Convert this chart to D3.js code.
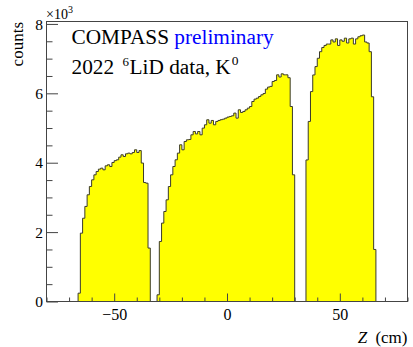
<!DOCTYPE html>
<html>
<head>
<meta charset="utf-8">
<script src="https://cdn.jsdelivr.net/npm/d3@7"></script>
<style>
  html, body { margin: 0; padding: 0; background: #ffffff; }
  svg { display: block; }
  text { font-family: "Liberation Serif", "Times New Roman", serif; fill: #000; }
</style>
</head>
<body>
<svg id="chart" width="413" height="347"></svg>
<script>
// Reconstructed vertex Z distribution, 1 cm bins, three target cells
const binWidth = 1;
const cellStarts = [-66, -31, 35];
const cell1Counts = [240, 1970, 2400, 2740, 3075, 3315, 3507, 3651, 3747, 3815, 3843, 3795,
  3910, 3940, 3890, 4007, 4060, 4084, 4160, 4228, 4180, 4256, 4276, 4256, 4295, 4372,
  4295, 4350, 3990, 3430, 3410, 1540];
const cell2Counts = [193, 1730, 2260, 2594, 2930, 3314, 3651, 3891, 4084, 4277, 4516, 4372,
  4611, 4660, 4670, 4804, 4900, 4830, 4900, 4804, 4997, 5093, 5237, 5140, 5218, 5093,
  5189, 5218, 5240, 5256, 5285, 5314, 5333, 5352, 5430, 5285, 5525, 5448, 5477, 5525,
  5573, 5620, 5764, 5833, 5862, 5908, 5957, 5995, 6121, 6180, 6200, 6340, 6370, 6533,
  6470, 6562, 6533, 6533, 6450, 5620, 3651];
const cell3Counts = [4080, 5190, 6050, 6530, 6770, 7010, 7200, 7320, 7380, 7420, 7420,
  7540, 7480, 7570, 7380, 7540, 7500, 7590, 7450, 7570, 7590, 7420, 7570, 7630, 7660,
  7680, 7480, 7450, 7200, 5900, 1500];

const zRange = [-80, 80];
const countMax = 8070;
const xMajorTicks = [-50, 0, 50];
const xMinorTicks = [-80, -70, -60, -40, -30, -20, -10, 10, 20, 30, 40, 60, 70, 80];
const yMajorTicks = [0, 2000, 4000, 6000, 8000];
const yMinorTicks = [500, 1000, 1500, 2500, 3000, 3500, 4500, 5000, 5500, 6500, 7000, 7500];

const svg = d3.select("#chart");
const frame = { left: 46.5, right: 407.5, top: 21.5, bottom: 301.5 };

const x = d3.scaleLinear().domain(zRange).range([frame.left, frame.right]);
const y = d3.scaleLinear().domain([0, countMax]).range([frame.bottom, frame.top]);

// Full binning over the axis range, zero outside the cells
const bins = [];
for (let z = zRange[0]; z < zRange[1]; z += binWidth) bins.push({ lo: z, count: 0 });
[cell1Counts, cell2Counts, cell3Counts].forEach((counts, i) => {
  counts.forEach((c, k) => {
    const idx = Math.round((cellStarts[i] + k * binWidth - zRange[0]) / binWidth);
    bins[idx].count = c;
  });
});
const steps = bins.concat([{ lo: zRange[1], count: 0 }]);

svg.append("defs").append("clipPath").attr("id", "plotClip")
  .append("rect")
  .attr("x", frame.left).attr("y", frame.top)
  .attr("width", frame.right - frame.left).attr("height", frame.bottom - frame.top);

const plot = svg.append("g").attr("clip-path", "url(#plotClip)");

const area = d3.area()
  .x(d => x(d.lo)).y0(y(0)).y1(d => y(d.count))
  .curve(d3.curveStepAfter);
const line = d3.line()
  .x(d => x(d.lo)).y(d => y(d.count))
  .curve(d3.curveStepAfter);

plot.append("path").datum(steps).attr("d", area).attr("fill", "#ffff00");
plot.append("path").datum(steps).attr("d", line)
  .attr("fill", "none").attr("stroke", "#3a3a2a").attr("stroke-width", 1);

// Frame
svg.append("rect")
  .attr("x", frame.left).attr("y", frame.top)
  .attr("width", frame.right - frame.left).attr("height", frame.bottom - frame.top)
  .attr("fill", "none").attr("stroke", "#444").attr("stroke-width", 1);

// X axis: major ticks with labels, minor ticks
const fmtMinus = v => (v < 0 ? "\u2212" + Math.abs(v) : String(v));
const xMajor = svg.append("g").attr("transform", `translate(0,${frame.bottom})`)
  .call(d3.axisBottom(x).tickValues(xMajorTicks).tickSize(-8).tickPadding(18).tickFormat(fmtMinus));
const xMinor = svg.append("g").attr("transform", `translate(0,${frame.bottom})`)
  .call(d3.axisBottom(x).tickValues(xMinorTicks).tickSize(-4).tickFormat(""));

// Y axis: labels in units of 10^3
const yMajor = svg.append("g").attr("transform", `translate(${frame.left},0)`)
  .call(d3.axisLeft(y).tickValues(yMajorTicks).tickSize(-11.5).tickPadding(4).tickFormat(v => v / 1000));
const yMinor = svg.append("g").attr("transform", `translate(${frame.left},0)`)
  .call(d3.axisLeft(y).tickValues(yMinorTicks).tickSize(-6).tickFormat(""));

[xMajor, xMinor, yMajor, yMinor].forEach(g => {
  g.select(".domain").remove();
  g.selectAll(".tick line").attr("stroke", "#444");
});
xMajor.selectAll(".tick text")
  .attr("font-family", "Liberation Serif").attr("font-size", 16).attr("fill", "#000")
  .attr("y", 0).attr("dy", 18);
yMajor.selectAll(".tick text")
  .attr("font-family", "Liberation Serif").attr("font-size", 15.5).attr("fill", "#000")
  .attr("x", -3.5).attr("dy", "0.33em");

// Axis titles
const xTitle = svg.append("text")
  .attr("x", 407.5).attr("y", 343).attr("text-anchor", "end").attr("font-size", 17);
xTitle.append("tspan").attr("font-style", "italic").text("Z");
xTitle.append("tspan").attr("dx", 4).text(" (cm)");

svg.append("text")
  .attr("transform", "translate(22.5,22) rotate(-90)")
  .attr("text-anchor", "end").attr("font-size", 17)
  .text("counts");

const expo = svg.append("text").attr("x", 46).attr("y", 18.5).attr("font-size", 14);
expo.append("tspan").text("\u00d710");
expo.append("tspan").attr("font-size", 10).attr("dy", -6).text("3");

// Labels inside the frame
const line1 = svg.append("text").attr("x", 71.5).attr("y", 44).attr("font-size", 21.3);
line1.append("tspan").text("COMPASS ");
line1.append("tspan").attr("fill", "#0000ff").text("preliminary");

const line2 = svg.append("text").attr("x", 71.5).attr("y", 74).attr("font-size", 21.3);
line2.append("tspan").text("2022");
line2.append("tspan").attr("font-size", 13).attr("dx", 8.5).attr("dy", -8).text("6");
line2.append("tspan").attr("dx", 0.5).attr("dy", 8).text("LiD data, K");
line2.append("tspan").attr("font-size", 13.5).attr("dx", 1).attr("dy", -9).text("0");
</script>
</body>
</html>
